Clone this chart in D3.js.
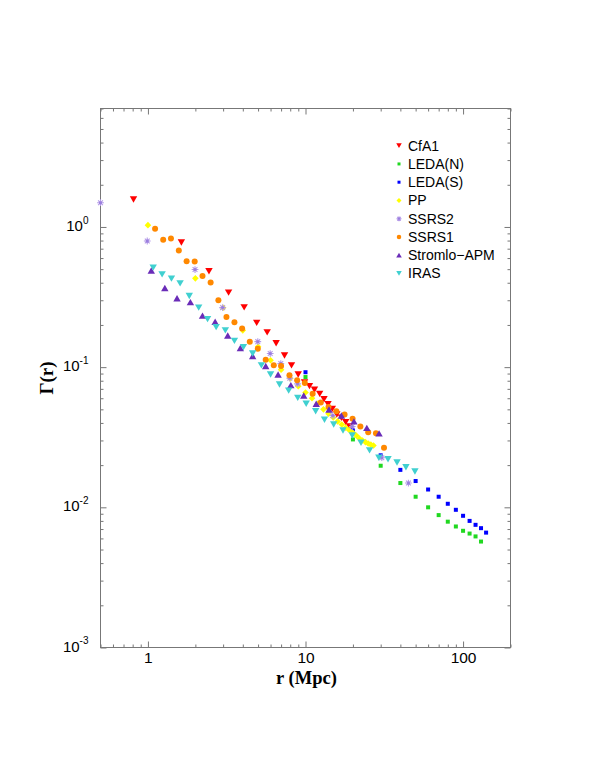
<!DOCTYPE html>
<html>
<head>
<meta charset="utf-8">
<script src="https://cdn.jsdelivr.net/npm/d3@7"></script>
<style>
  html, body { margin: 0; padding: 0; background: #fff; }
  svg { display: block; }
</style>
</head>
<body>
<svg id="chart" width="599" height="776"></svg>
<script>
// ---------- data ----------
const cfa1X = [0.81,1.63,2.44,3.25,4.08,4.9,5.71,6.51,7.36,8.15,8.99,9.86,10.6,11.4,12.3,13.1,13.9,14.8,15.8,16.9,18.0,19.0];
const cfa1Y = [1.57,0.774,0.483,0.34,0.267,0.207,0.177,0.148,0.121,0.103,0.0887,0.0778,0.0732,0.069,0.0645,0.059,0.0545,0.0504,0.0459,0.0435,0.0405,0.0377];

const ledaNX = [10,20,30,40,50,60,70,80,90,100,110,120,130];
const ledaNY = [0.085,0.0305,0.0198,0.0149,0.0119,0.0100,0.0088,0.0079,0.0073,0.0068,0.0065,0.0062,0.0057];

const ledaSX = [10,20,30,40,50,60,70,80,90,100,110,120,130,140];
const ledaSY = [0.092,0.0357,0.0235,0.0185,0.0154,0.0134,0.0119,0.0106,0.0096,0.0087,0.0080,0.0075,0.0071,0.0066];

const ppX = [1,2,3,4,5,6,7,8,9,10,11,12,13,14,15,16,17,18,19,20,21,22,23,24,25,26,27];
const ppY = [1.03,0.43,0.265,0.183,0.14,0.112,0.096,0.083,0.073,0.066,0.060,0.055,0.050,0.0465,0.0437,0.041,0.039,0.037,0.0355,0.034,0.0325,0.031,0.030,0.0292,0.0285,0.028,0.0276];

const ssrs2X = [0.5,0.99,1.99,2.98,4.98,5.97,6.97,7.95,8.9,14.9,19.8,30.5,45];
const ssrs2Y = [1.49,0.794,0.497,0.266,0.152,0.125,0.106,0.0835,0.076,0.0452,0.0377,0.0226,0.0149];

const ssrs1X = [1.11,1.25,1.40,1.57,1.76,1.98,2.22,2.50,2.80,3.15,3.54,3.96,4.43,4.98,5.59,6.29,7.0,7.91,8.85,9.9,11.1,12.5,14.0,15.7,17.7,19.9,22.3,25.0,28.0,31.5];
const ssrs1Y = [0.97,0.81,0.826,0.678,0.569,0.566,0.447,0.401,0.30,0.228,0.209,0.189,0.152,0.135,0.113,0.103,0.102,0.0877,0.0807,0.077,0.0645,0.056,0.052,0.0485,0.0459,0.0428,0.0377,0.0343,0.0337,0.0266];

const stromloX = [1.05,1.28,1.53,1.86,2.22,2.67,3.21,3.86,4.62,5.59,6.7,8.07,9.75,11.7,14.1,16.9,20.3,24.5,29.3];
const stromloY = [0.489,0.367,0.31,0.291,0.233,0.211,0.168,0.137,0.12,0.102,0.0887,0.0744,0.0628,0.0548,0.0499,0.0452,0.041,0.0369,0.0337];

const irasX = [1.08,1.23,1.41,1.60,1.83,2.10,2.39,2.71,3.10,3.54,4.04,4.62,5.25,6.0,6.84,7.82,8.93,10.1,11.6,13.2,15.1,17.3,19.8,22.5,25.5,29.2,33.4,38.1,43.4,49.5];
const irasY = [0.513,0.459,0.428,0.396,0.322,0.266,0.22,0.193,0.183,0.154,0.139,0.125,0.103,0.0887,0.0752,0.068,0.0604,0.0548,0.0485,0.0421,0.039,0.0353,0.0325,0.0289,0.0255,0.0226,0.022,0.0209,0.0193,0.018];

const seriesNames = ["CfA1","LEDA(N)","LEDA(S)","PP","SSRS2","SSRS1","Stromlo\u2212APM","IRAS"];

const xMajor = [1, 10, 100];
const xLabels = ["1", "10", "100"];
const yMajor = [1, 0.1, 0.01, 0.001];
const yExponents = ["0", "-1", "-2", "-3"];

// ---------- styling ----------
const series = [
  {name: seriesNames[0], xs: cfa1X,    ys: cfa1Y,    shape: "tdown",   color: "#ff0000"},
  {name: seriesNames[1], xs: ledaNX,   ys: ledaNY,   shape: "square",  color: "#20d820"},
  {name: seriesNames[2], xs: ledaSX,   ys: ledaSY,   shape: "square",  color: "#0000ff"},
  {name: seriesNames[3], xs: ppX,      ys: ppY,      shape: "diamond", color: "#ffff00"},
  {name: seriesNames[4], xs: ssrs2X,   ys: ssrs2Y,   shape: "star",    color: "#b49ae8"},
  {name: seriesNames[5], xs: ssrs1X,   ys: ssrs1Y,   shape: "circle",  color: "#ff8800"},
  {name: seriesNames[6], xs: stromloX, ys: stromloY, shape: "tup",     color: "#6a2cb8"},
  {name: seriesNames[7], xs: irasX,    ys: irasY,    shape: "tdown",   color: "#40d0d0"}
];

const L = 100.5, R = 510.5, T = 108.5, B = 647.5;
const x = d3.scaleLog().domain([0.5, 200]).range([L, R]);
const y = d3.scaleLog().domain([0.001, 7]).range([B, T]);

const svg = d3.select("#chart");
svg.append("rect").attr("width", 599).attr("height", 776).attr("fill", "#fff");

// minor tick values
const xMinor = [];
[0.1, 1, 10, 100].forEach(d => { for (let k = 2; k <= 9; k++) { const v = d * k; if (v >= 0.5 && v <= 200 && !xMajor.includes(v)) xMinor.push(v); } });
const yMinor = [];
[0.001, 0.01, 0.1, 1].forEach(d => { for (let k = 2; k <= 9; k++) { const v = d * k; if (v <= 7.0001) yMinor.push(v); } });

const tickColor = "#777";
function styleAxis(g) {
  g.select(".domain").remove();
  g.selectAll(".tick line").attr("stroke", tickColor).attr("stroke-width", 1);
}

// bottom axis
svg.append("g").attr("transform", `translate(0,${B})`)
  .call(d3.axisBottom(x).tickValues(xMinor).tickFormat("").tickSize(-3))
  .call(styleAxis);
const xb = svg.append("g").attr("transform", `translate(0,${B})`)
  .call(d3.axisBottom(x).tickValues(xMajor).tickFormat((d, i) => xLabels[i]).tickSize(-6).tickPadding(4.5))
  .call(styleAxis);
xb.selectAll("text").attr("font-family", "Liberation Sans, Arial, sans-serif").attr("font-size", 15.5)
  .attr("fill", "#000").attr("dy", "0.72em");

// top axis
svg.append("g").attr("transform", `translate(0,${T})`)
  .call(d3.axisTop(x).tickValues(xMinor).tickFormat("").tickSize(-3)).call(styleAxis);
svg.append("g").attr("transform", `translate(0,${T})`)
  .call(d3.axisTop(x).tickValues(xMajor).tickFormat("").tickSize(-6)).call(styleAxis);

// left axis
svg.append("g").attr("transform", `translate(${L},0)`)
  .call(d3.axisLeft(y).tickValues(yMinor).tickFormat("").tickSize(-3)).call(styleAxis);
const yl = svg.append("g").attr("transform", `translate(${L},0)`)
  .call(d3.axisLeft(y).tickValues(yMajor).tickFormat("").tickSize(-6).tickPadding(12))
  .call(styleAxis);
yl.selectAll(".tick text").each(function(d, i) {
  const t = d3.select(this);
  t.attr("font-family", "Liberation Sans, Arial, sans-serif").attr("fill", "#000").attr("dy", "0.36em");
  t.append("tspan").attr("font-size", 15).text("10");
  t.append("tspan").attr("font-size", 10).attr("dy", "-0.75em").text(yExponents[i]);
});

// right axis
svg.append("g").attr("transform", `translate(${R},0)`)
  .call(d3.axisRight(y).tickValues(yMinor).tickFormat("").tickSize(-3)).call(styleAxis);
svg.append("g").attr("transform", `translate(${R},0)`)
  .call(d3.axisRight(y).tickValues(yMajor).tickFormat("").tickSize(-6)).call(styleAxis);

// frame
svg.append("rect").attr("x", L).attr("y", T).attr("width", R - L).attr("height", B - T)
  .attr("fill", "none").attr("stroke", tickColor).attr("stroke-width", 1);

// axis titles
svg.append("text").attr("x", (L + R) / 2 + 1).attr("y", 683.5)
  .attr("text-anchor", "middle").attr("font-family", "Liberation Serif, Times New Roman, serif")
  .attr("font-weight", "bold").attr("font-size", 18.5).text("r (Mpc)");
svg.append("text").attr("transform", `translate(53,${(T + B) / 2}) rotate(-90)`)
  .attr("text-anchor", "middle").attr("font-family", "Liberation Serif, Times New Roman, serif")
  .attr("font-weight", "bold").attr("font-size", 19).text("\u0393(r)");

// ---------- marker drawing ----------
function marker(g, shape, color, s) {
  if (shape === "tdown" || shape === "tup") {
    const w = 7.4 * s, h = 6.4 * s;
    const p = shape === "tdown"
      ? `M${-w/2},${-h/2}L${w/2},${-h/2}L0,${h/2}Z`
      : `M${-w/2},${h/2}L${w/2},${h/2}L0,${-h/2}Z`;
    g.append("path").attr("d", p).attr("fill", color);
  } else if (shape === "square") {
    const a = 4.0 * s;
    g.append("rect").attr("x", -a/2).attr("y", -a/2).attr("width", a).attr("height", a).attr("fill", color);
  } else if (shape === "diamond") {
    const a = 3.3 * s;
    g.append("path").attr("d", `M0,${-a}L${a},0L0,${a}L${-a},0Z`).attr("fill", color);
  } else if (shape === "circle") {
    g.append("circle").attr("r", 3.0 * s).attr("fill", color);
  } else if (shape === "star") {
    const r = 3.4 * s;
    let d = "";
    for (let k = 0; k < 4; k++) {
      const a = k * Math.PI / 4;
      d += `M${-r*Math.cos(a)},${-r*Math.sin(a)}L${r*Math.cos(a)},${r*Math.sin(a)}`;
    }
    g.append("path").attr("d", d).attr("stroke", color).attr("stroke-width", 1.1).attr("fill", "none");
    g.append("circle").attr("r", 1.5 * s).attr("fill", "#9a7ede");
  }
}

const plot = svg.append("g");
series.forEach(sr => {
  const pts = sr.xs.map((v, i) => [v, sr.ys[i]]);
  plot.append("g").selectAll("g").data(pts).join("g")
    .attr("transform", d => `translate(${x(d[0])},${y(d[1])})`)
    .each(function() { marker(d3.select(this), sr.shape, sr.color, 1); });
});

// ---------- legend ----------
const lg = svg.append("g");
series.forEach((sr, i) => {
  const cy = 145.7 + i * 18.25;
  const g = lg.append("g").attr("transform", `translate(399,${cy})`);
  marker(g, sr.shape, sr.color, 0.75);
  lg.append("text").attr("x", 408).attr("y", cy + 5)
    .attr("font-family", "Liberation Sans, Arial, sans-serif").attr("font-size", 14)
    .attr("fill", "#000").text(sr.name);
});
</script>
</body>
</html>
